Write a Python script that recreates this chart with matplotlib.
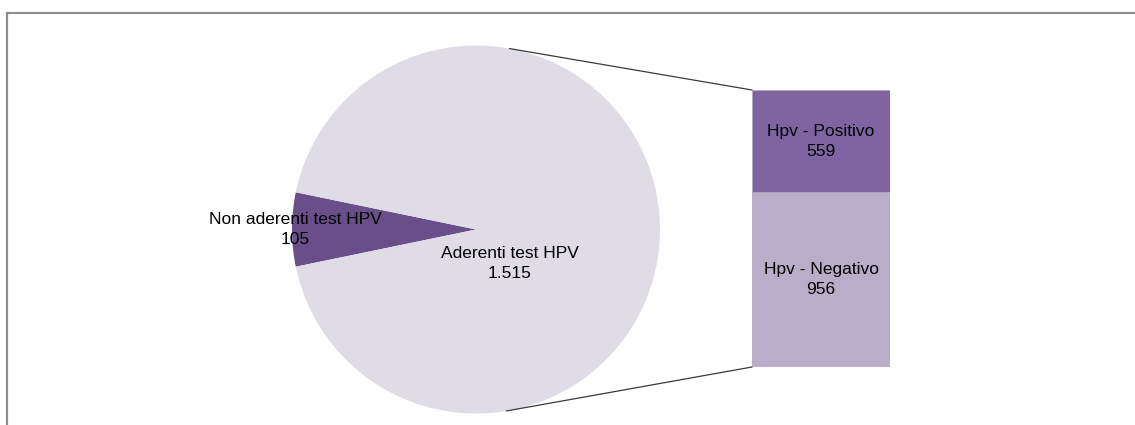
import matplotlib
matplotlib.use("Agg")
import matplotlib.pyplot as plt
import numpy as np
from matplotlib.patches import ConnectionPatch, Rectangle

# pie: adherence to the HPV test
pie_labels = ["Non aderenti test HPV", "Aderenti test HPV"]
pie_values = [105, 1515]
pie_value_text = ["105", "1.515"]

# bar: outcome among the adherent
bar_labels = ["Hpv - Negativo", "Hpv - Positivo"]
bar_values = [956, 559]

PIE_COLORS = ["#6a4e89", "#dfdce6"]
BAR_COLORS = ["#b8aeca", "#8064a2"]
FONT = ["Liberation Sans", "DejaVu Sans"]
FS = 12.5
LS = 1.4

W, H = 1135, 425
fig = plt.figure(figsize=(W / 100, H / 100), dpi=100)

# outer frame of the chart area (runs off the right and bottom edges)
fig.patches.append(Rectangle((7 / W, -0.05), 1.2, (H - 13) / H + 0.05,
                             transform=fig.transFigure, fill=False,
                             edgecolor="#8f8f8f", linewidth=1.6))

# pie axes, square in pixels
cx, cy, r = 476, H - 229.5, 184
ax_pie = fig.add_axes([(cx - r) / W, (cy - r) / H, 2 * r / W, 2 * r / H])
small_share = pie_values[0] / sum(pie_values) * 360
start = 180 - small_share / 2
ax_pie.pie(pie_values, colors=PIE_COLORS, startangle=start,
           counterclock=True, radius=1, center=(0, 0),
           wedgeprops=dict(linewidth=0))
ax_pie.set_xlim(-1, 1)
ax_pie.set_ylim(-1, 1)
ax_pie.set_aspect("auto")
ax_pie.axis("off")

ax_pie.text(-0.98, 0.0, f"{pie_labels[0]}\n{pie_value_text[0]}", ha="center",
            va="center", fontsize=FS, family=FONT, linespacing=LS)
ax_pie.text(0.185, -0.185, f"{pie_labels[1]}\n{pie_value_text[1]}", ha="center",
            va="center", fontsize=FS, family=FONT, linespacing=LS)

# stacked bar axes
bx0, bx1, by_top, by_bot = 752, 890, 90, 367
ax_bar = fig.add_axes([bx0 / W, (H - by_bot) / H, (bx1 - bx0) / W, (by_bot - by_top) / H])
bottom = 0
for label, value, color in zip(bar_labels, bar_values, BAR_COLORS):
    ax_bar.bar(0, value, width=1, bottom=bottom, color=color,
               edgecolor="#b0aabb", linewidth=0.6)
    ax_bar.text(0, bottom + value / 2, f"{label}\n{value}", ha="center",
                va="center", fontsize=FS, family=FONT, linespacing=LS)
    bottom += value
ax_bar.set_xlim(-0.5, 0.5)
ax_bar.set_ylim(0, sum(bar_values))
ax_bar.axis("off")

# connector lines from pie rim to bar corners
for ang, yb in [(79.5, sum(bar_values)), (-80.5, 0)]:
    xa, ya = np.cos(np.radians(ang)), np.sin(np.radians(ang))
    con = ConnectionPatch(xyA=(xa, ya), coordsA=ax_pie.transData,
                          xyB=(-0.5, yb), coordsB=ax_bar.transData,
                          color="#3a3a3a", linewidth=0.9)
    fig.add_artist(con)

fig.savefig("out.png", dpi=100, facecolor="white")
